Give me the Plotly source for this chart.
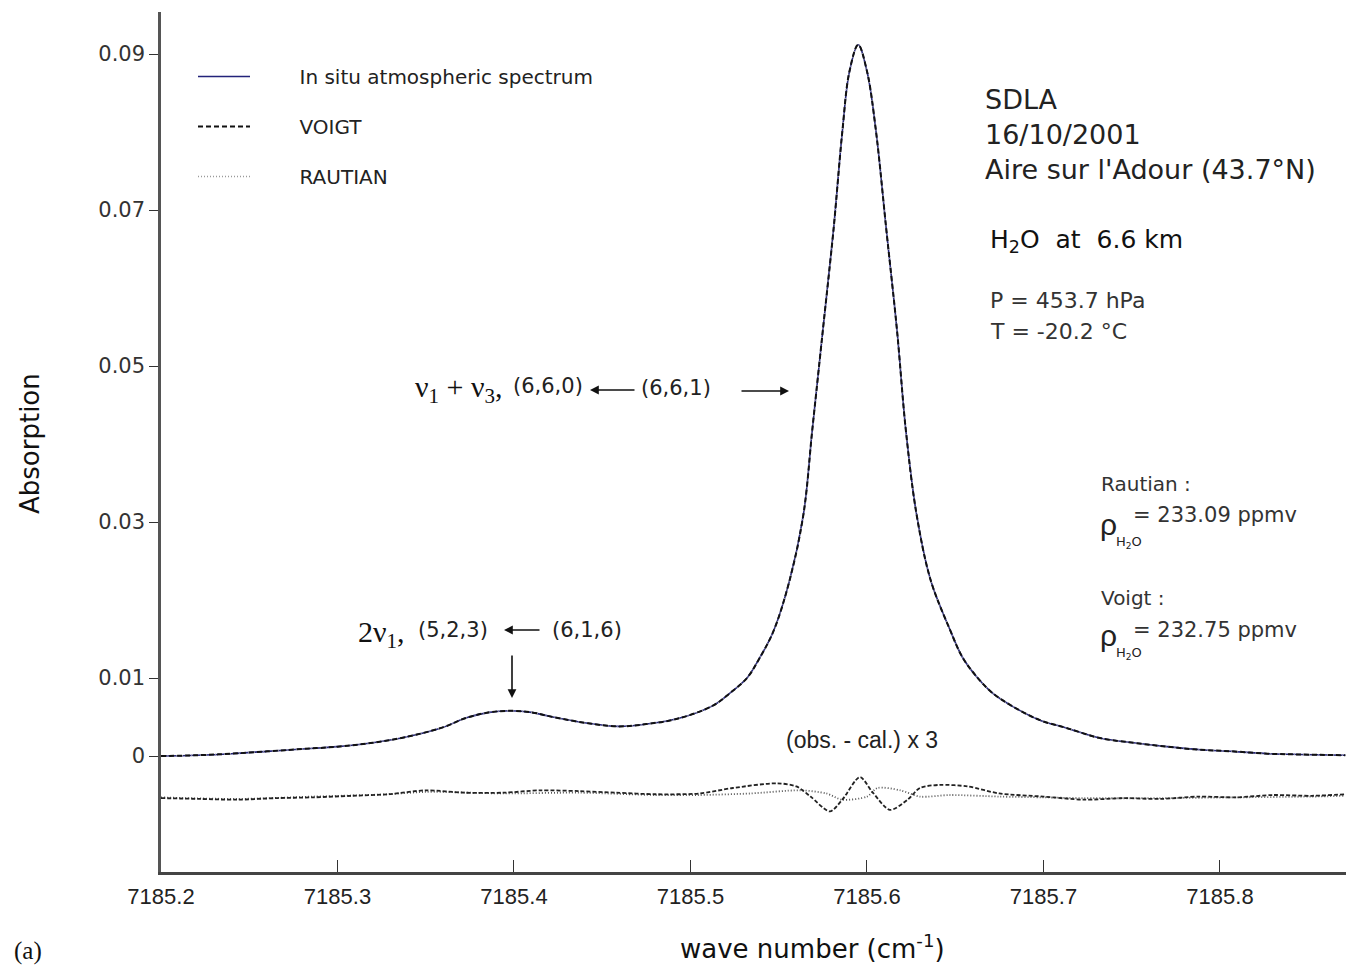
import plotly.graph_objects as go

# ---------------- data ----------------
wavenumber = [7185.200, 7185.220, 7185.240, 7185.260, 7185.280, 7185.300, 7185.320, 7185.340,
              7185.360, 7185.373, 7185.386, 7185.398, 7185.410, 7185.422, 7185.442, 7185.459,
              7185.475, 7185.493, 7185.513, 7185.522, 7185.532, 7185.539, 7185.547, 7185.556,
              7185.564, 7185.569, 7185.575, 7185.581, 7185.586, 7185.590, 7185.595, 7185.600,
              7185.605, 7185.611, 7185.617, 7185.622, 7185.628, 7185.636, 7185.647, 7185.654,
              7185.662, 7185.671, 7185.683, 7185.698, 7185.713, 7185.732, 7185.751, 7185.770,
              7185.789, 7185.807, 7185.827, 7185.845, 7185.871]
absorption_obs = [0.0000, 0.0001, 0.0003, 0.0006, 0.0009, 0.0012, 0.0017, 0.0025,
                  0.0037, 0.0049, 0.0056, 0.0058, 0.0056, 0.0050, 0.0042, 0.0038,
                  0.0041, 0.0048, 0.0065, 0.0080, 0.0100, 0.0125, 0.0160, 0.0224,
                  0.0310, 0.0418, 0.0546, 0.0674, 0.0800, 0.0877, 0.0912, 0.0878,
                  0.0803, 0.0674, 0.0546, 0.0418, 0.0311, 0.0226, 0.0162, 0.0127,
                  0.0102, 0.0081, 0.0063, 0.0046, 0.0036, 0.0023, 0.0017, 0.0012,
                  0.0008, 0.0006, 0.0003, 0.0002, 0.0001]
# fitted profiles are indistinguishable from the observation at this scale
absorption_voigt = list(absorption_obs)
absorption_rautian = list(absorption_obs)

# residuals (obs - cal) x 3, as drawn (offset below zero)
resid_voigt_x = [7185.200, 7185.222, 7185.243, 7185.265, 7185.286, 7185.308, 7185.329, 7185.350,
                 7185.372, 7185.394, 7185.415, 7185.437, 7185.458, 7185.480,
                 7185.505, 7185.524, 7185.549, 7185.560, 7185.568, 7185.579, 7185.586, 7185.596,
                 7185.603, 7185.613, 7185.623, 7185.630, 7185.641, 7185.657, 7185.675, 7185.700,
                 7185.723, 7185.745, 7185.766, 7185.788, 7185.809, 7185.830, 7185.852, 7185.871]
resid_voigt_y = [-0.0054, -0.0055, -0.0056, -0.0054, -0.0053, -0.0051, -0.0049, -0.0044,
                 -0.0047, -0.0047, -0.0044, -0.0045, -0.0047, -0.0049,
                 -0.0048, -0.0041, -0.0035, -0.0039, -0.0052, -0.0071, -0.0056, -0.0027,
                 -0.0046, -0.0069, -0.0056, -0.0041, -0.0037, -0.0039, -0.0048, -0.0052,
                 -0.0056, -0.0054, -0.0055, -0.0052, -0.0053, -0.0050, -0.0051, -0.0049]
resid_rautian_x = [7185.200, 7185.243, 7185.286, 7185.329, 7185.350, 7185.394, 7185.437, 7185.480,
                   7185.505, 7185.534, 7185.562, 7185.577, 7185.586, 7185.600, 7185.606, 7185.619,
                   7185.630, 7185.647, 7185.675, 7185.700, 7185.723, 7185.766, 7185.809, 7185.852,
                   7185.871]
resid_rautian_y = [-0.0053, -0.0055, -0.0052, -0.0049, -0.0046, -0.0048, -0.0047, -0.0050,
                   -0.0050, -0.0048, -0.0044, -0.0048, -0.0056, -0.0052, -0.0041, -0.0044,
                   -0.0052, -0.0050, -0.0052, -0.0053, -0.0054, -0.0054, -0.0053, -0.0052,
                   -0.0051]

x_tickvals = [7185.2, 7185.3, 7185.4, 7185.5, 7185.6, 7185.7, 7185.8]
x_ticktext = ["7185.2", "7185.3", "7185.4", "7185.5", "7185.6", "7185.7", "7185.8"]
y_tickvals = [0, 0.01, 0.03, 0.05, 0.07, 0.09]
y_ticktext = ["0", "0.01", "0.03", "0.05", "0.07", "0.09"]

# ---------------- layout geometry ----------------
X0, X1 = 7185.2, 7185.8714
Y0, Y1 = -0.01487, 0.0954
L, T, W, H = 161, 12, 1185, 860
FIG_W, FIG_H = 1346, 967


def px(xp):
    return X0 + (xp - L) / W * (X1 - X0)


def py(yp):
    return Y1 - (yp - T) / H * (Y1 - Y0)


SANS = "Liberation Sans, Arial, sans-serif"
WIDE = "DejaVu Sans, Verdana, sans-serif"
SERIF = "Liberation Serif, Times New Roman, serif"
NB = "\u00a0"

fig = go.Figure()

fig.add_trace(go.Scatter(
    x=wavenumber, y=absorption_obs, mode="lines", name=NB * 7 + "In situ atmospheric spectrum",
    line=dict(color="#23237a", width=1.6, shape="spline", smoothing=1.0),
    legendgroup="a", legendrank=1))
fig.add_trace(go.Scatter(
    x=wavenumber, y=absorption_rautian, mode="lines", name=NB * 7 + "RAUTIAN",
    line=dict(color="#9a9a9a", width=1.4, dash="1px,2px", shape="spline", smoothing=1.0),
    legendgroup="c", legendrank=3))
fig.add_trace(go.Scatter(
    x=wavenumber, y=absorption_voigt, mode="lines", name=NB * 7 + "VOIGT",
    line=dict(color="#111111", width=2, dash="5px,3px", shape="spline", smoothing=1.0),
    legendgroup="b", legendrank=2))
fig.add_trace(go.Scatter(
    x=resid_rautian_x, y=resid_rautian_y, mode="lines", showlegend=False,
    line=dict(color="#555555", width=1.8, dash="1px,2px", shape="spline", smoothing=0.8)))
fig.add_trace(go.Scatter(
    x=resid_voigt_x, y=resid_voigt_y, mode="lines", showlegend=False,
    line=dict(color="#222222", width=1.8, dash="4px,2px", shape="spline", smoothing=0.8)))

anns = []


def ann(text, xp, yp, size=20, family=WIDE, xanchor="left", yanchor="middle", color="#222"):
    anns.append(dict(text=text, x=px(xp), y=py(yp), xref="x", yref="y", showarrow=False,
                     xanchor=xanchor, yanchor=yanchor,
                     font=dict(size=size, family=family, color=color)))


def arrow(x_tail, y_tail, x_head, y_head):
    anns.append(dict(text="", x=px(x_head), y=py(y_head), ax=px(x_tail), ay=py(y_tail),
                     xref="x", yref="y", axref="x", ayref="y", showarrow=True,
                     arrowhead=2, arrowsize=1.1, arrowwidth=1.6, arrowcolor="#111"))


# top-right block
ann("SDLA", 983, 99, size=27)
ann("16/10/2001", 983, 134, size=27)
ann("Aire sur l'Adour (43.7°N)", 983, 169, size=27)
ann("H<sub>2</sub>O  at  6.6 km", 988, 241, size=25, color="#111")
ann("P = 453.7 hPa", 988, 300, size=22, color="#333")
ann("T = -20.2 °C", 988, 331, size=22, color="#333")

# densities
ann("Rautian :", 1099, 484, size=20, color="#333")
ann("ρ", 1098, 524, size=30, family=SANS, color="#222")
ann("H<sub>2</sub>O", 1114, 542, size=13, color="#222")
ann("= 233.09 ppmv", 1131, 515, size=21, color="#333")
ann("Voigt :", 1099, 598, size=20, color="#333")
ann("ρ", 1098, 635, size=30, family=SANS, color="#222")
ann("H<sub>2</sub>O", 1114, 653, size=13, color="#222")
ann("= 232.75 ppmv", 1131, 630, size=21, color="#333")

# line assignments
ann("ν<sub>1</sub> + ν<sub>3</sub>,", 413, 389, size=30, family=SERIF, color="#111")
ann("(6,6,0)", 511, 386, size=21, color="#222")
ann("(6,6,1)", 639, 388, size=21, color="#222")
arrow(636, 390, 590, 390)
arrow(740, 391, 789, 391)

ann("2ν<sub>1</sub>,", 356, 634, size=30, family=SERIF, color="#111")
ann("(5,2,3)", 416, 630, size=21, color="#222")
ann("(6,1,6)", 550, 630, size=21, color="#222")
arrow(541, 630, 504, 630)
arrow(512, 654, 512, 698)

ann("(obs. - cal.) x 3", 862, 740, size=23, family=SANS, xanchor="center", color="#222")

# outer labels (paper coords)
anns.append(dict(text="Absorption", x=(30 - L) / W, y=1 - (444 - T) / H, xref="paper", yref="paper",
                 showarrow=False, textangle=-90, xanchor="center", yanchor="middle",
                 font=dict(size=26, family=WIDE, color="#111")))
anns.append(dict(text="wave number (cm<sup>-1</sup>)", x=(812 - L) / W, y=1 - (947 - T) / H,
                 xref="paper", yref="paper", showarrow=False, xanchor="center", yanchor="middle",
                 font=dict(size=26, family=WIDE, color="#111")))
anns.append(dict(text="(a)", x=(12 - L) / W, y=1 - (951 - T) / H, xref="paper", yref="paper",
                 showarrow=False, xanchor="left", yanchor="middle",
                 font=dict(size=25, family=SERIF, color="#111")))

fig.update_layout(
    width=FIG_W, height=FIG_H,
    margin=dict(l=L, r=FIG_W - L - W, t=T, b=FIG_H - T - H, pad=0),
    paper_bgcolor="white", plot_bgcolor="white",
    showlegend=True,
    legend=dict(x=(193 - L) / W, y=1 - (57 - T) / H, xanchor="left", yanchor="top",
                bgcolor="rgba(0,0,0,0)", borderwidth=0, itemwidth=52,
                tracegroupgap=21, traceorder="grouped",
                font=dict(size=20, family=WIDE, color="#222")),
    annotations=anns,
    xaxis=dict(range=[X0, X1], tickmode="array", tickvals=x_tickvals, ticktext=x_ticktext,
               ticks="inside", ticklen=12, tickwidth=1.2, tickcolor="#333",
               showline=True, linecolor="#444", linewidth=2.5, mirror=False,
               showgrid=False, zeroline=False, ticklabelstandoff=3,
               tickfont=dict(size=22, family=SANS, color="#222")),
    yaxis=dict(range=[Y0, Y1], tickmode="array", tickvals=y_tickvals, ticktext=y_ticktext,
               ticks="outside", ticklen=9, tickwidth=1.2, tickcolor="#333",
               showline=True, linecolor="#555", linewidth=2.5, mirror=False,
               showgrid=False, zeroline=False,
               tickfont=dict(size=21, family=WIDE, color="#333")),
)

fig.write_html("out.html")
